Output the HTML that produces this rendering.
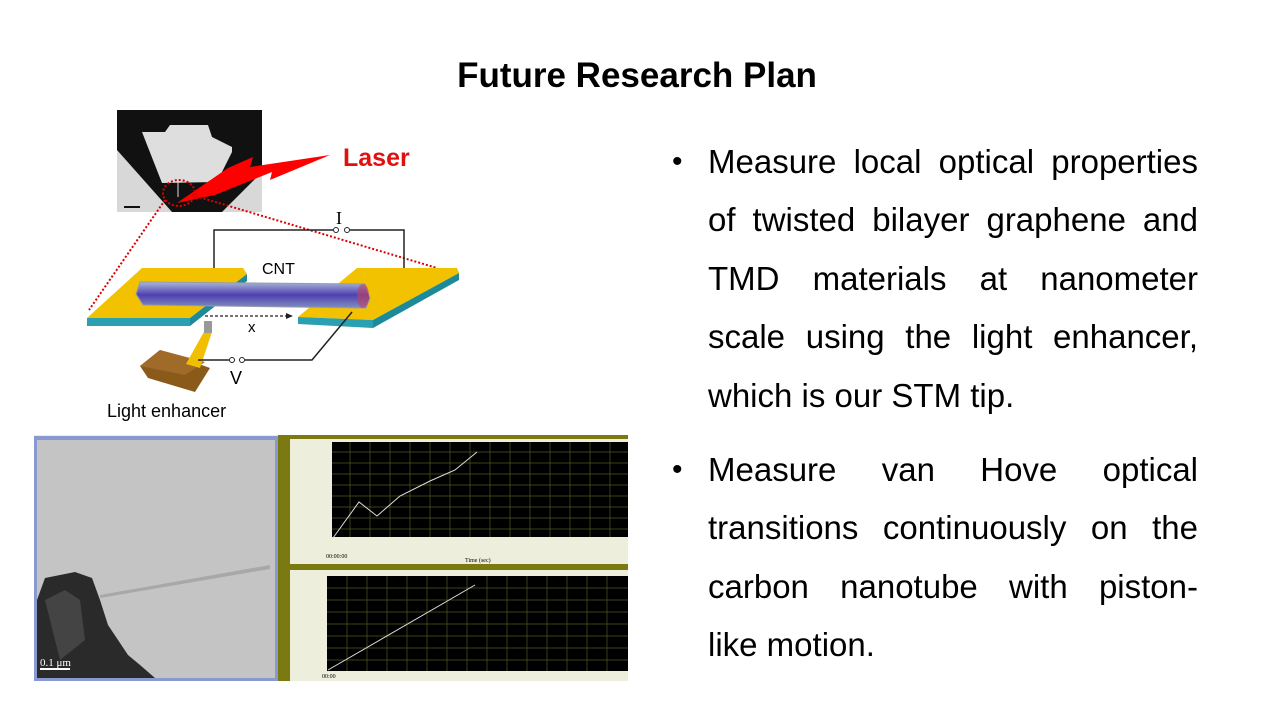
<!DOCTYPE html>
<html><head><meta charset="utf-8">
<style>
html,body{margin:0;padding:0;background:#fff;}
body{width:1280px;height:720px;position:relative;overflow:hidden;font-family:"Liberation Sans",sans-serif;}
.t{position:absolute;left:0;width:1274px;text-align:center;top:56px;font-size:35px;font-weight:bold;color:#000;}
.ln{position:absolute;left:708px;width:490px;font-size:33px;line-height:38px;color:#000;text-align:justify;text-align-last:justify;white-space:nowrap;}
.ln.l{text-align-last:left;}
.b{position:absolute;left:672px;font-size:30px;line-height:38px;}
</style></head><body>
<div class="t">Future Research Plan</div>

<div class="b" style="top:143px">•</div>
<div class="ln" style="top:143px">Measure local optical properties</div>
<div class="ln" style="top:201px">of twisted bilayer graphene and</div>
<div class="ln" style="top:260px">TMD materials at nanometer</div>
<div class="ln" style="top:318px">scale using the light enhancer,</div>
<div class="ln l" style="top:377px">which is our STM tip.</div>
<div class="b" style="top:451px">•</div>
<div class="ln" style="top:451px">Measure van Hove optical</div>
<div class="ln" style="top:509px">transitions continuously on the</div>
<div class="ln" style="top:568px">carbon nanotube with piston-</div>
<div class="ln l" style="top:626px">like motion.</div>

<svg width="1280" height="720" style="position:absolute;left:0;top:0" xmlns="http://www.w3.org/2000/svg">
<!-- SEM image -->
<rect x="117" y="110" width="145" height="102" fill="#d8d8d8"/>
<polygon points="117,110 262,110 262,172 222,212 172,212 117,150" fill="#111"/>
<polygon points="142,132 165,132 170,125 208,125 212,137 232,147 232,152 217,182 162,183" fill="#dedede"/>
<line x1="178" y1="182" x2="178" y2="197" stroke="#ddd" stroke-width="1"/>
<line x1="124" y1="207" x2="140" y2="207" stroke="#111" stroke-width="2"/>
<!-- laser bolt -->
<polygon points="177,203 228,168 253,157 250,167 330,155 270,180 272,172 215,195" fill="#f00"/>
<text x="343" y="166" font-size="25" font-weight="bold" fill="#e01010" font-family="Liberation Sans,sans-serif">Laser</text>
<!-- dotted circle & lines -->
<ellipse cx="179" cy="193" rx="16" ry="13" fill="none" stroke="#d00" stroke-width="2" stroke-dasharray="2,2"/>
<line x1="165" y1="200" x2="89" y2="310" stroke="#d00" stroke-width="2" stroke-dasharray="2,2"/>
<line x1="192" y1="195" x2="437" y2="268" stroke="#d00" stroke-width="2" stroke-dasharray="2,2"/>
<!-- circuit I -->
<polyline points="214,268 214,230 333,230" fill="none" stroke="#222" stroke-width="1.5"/>
<polyline points="350,230 404,230 404,270" fill="none" stroke="#222" stroke-width="1.5"/>
<circle cx="336" cy="230" r="2.5" fill="#fff" stroke="#222"/>
<circle cx="347" cy="230" r="2.5" fill="#fff" stroke="#222"/>
<text x="336" y="224" font-size="18" font-family="Liberation Serif,serif">I</text>
<!-- left pad -->
<polygon points="87,318 142,268 243,268 247,274 190,318" fill="#f2c200"/>
<polygon points="87,318 190,318 190,326 87,326" fill="#2aa0b0"/>
<polygon points="190,318 247,274 247,281 190,326" fill="#1d8a9a"/>
<!-- right pad -->
<polygon points="298,317 357,268 457,268 459,273 373,320" fill="#f2c200"/>
<polygon points="298,317 373,320 373,328 298,324" fill="#2aa0b0"/>
<polygon points="373,320 459,273 459,280 373,328" fill="#1d8a9a"/>
<!-- CNT -->
<defs><linearGradient id="g" x1="0" y1="0" x2="0" y2="1"><stop offset="0" stop-color="#a8b8d8"/><stop offset=".5" stop-color="#5040b0"/><stop offset="1" stop-color="#8090c0"/></linearGradient></defs>
<polygon points="140,282 365,284 370,298 366,308 143,305 136,294" fill="url(#g)" stroke="#99a" stroke-width="1"/>
<ellipse cx="363" cy="296" rx="6" ry="12" fill="#c04060" opacity=".6"/>
<text x="262" y="274" font-size="16" font-family="Liberation Sans,sans-serif">CNT</text>
<line x1="205" y1="316" x2="288" y2="316" stroke="#222" stroke-width="1.2" stroke-dasharray="3,2"/>
<polygon points="293,316 286,313 286,319" fill="#222"/>
<text x="248" y="332" font-size="15" font-family="Liberation Sans,sans-serif">x</text>
<!-- tip -->
<polygon points="140,366 160,350 210,368 195,392 148,378" fill="#8a5a1a"/>
<polygon points="140,366 160,350 205,362 185,375" fill="#a06a28"/>
<polygon points="205,330 212,332 200,368 186,364" fill="#f0c000"/>
<rect x="204" y="321" width="8" height="12" fill="#999"/>
<polyline points="198,360 229,360" fill="none" stroke="#222" stroke-width="1.5"/>
<polyline points="245,360 312,360 352,312" fill="none" stroke="#222" stroke-width="1.5"/>
<circle cx="232" cy="360" r="2.5" fill="#fff" stroke="#222"/>
<circle cx="242" cy="360" r="2.5" fill="#fff" stroke="#222"/>
<text x="230" y="384" font-size="18" font-family="Liberation Sans,sans-serif">V</text>
<text x="107" y="417" font-size="18" font-family="Liberation Sans,sans-serif">Light enhancer</text>

<!-- bottom composite -->
<rect x="34" y="435" width="594" height="246" fill="#eeeedd"/>
<rect x="34" y="436" width="244" height="245" fill="#8898d0"/>
<rect x="37" y="440" width="238" height="238" fill="#c4c4c4"/>
<path d="M100 595 L270 565 L270 569 L100 598Z" fill="#a8a8a8"/>
<path d="M37 600 L45 578 L75 572 L92 578 L100 600 L108 625 L118 640 L128 655 L140 665 L155 678 L37 678Z" fill="#2a2a2a"/>
<path d="M45 600 L65 590 L80 600 L85 640 L60 660Z" fill="#444"/>
<text x="40" y="666" font-size="11" fill="#fff" font-family="Liberation Serif,serif">0.1 μm</text>
<rect x="40" y="668" width="30" height="2" fill="#fff"/>
<rect x="278" y="435" width="12" height="246" fill="#7a7a10"/>
<rect x="290" y="435" width="338" height="4" fill="#7a7a10"/>
<rect x="290" y="564" width="338" height="6" fill="#7a7a10"/>
<!-- top plot -->
<rect x="332" y="442" width="296" height="95" fill="#000"/>
<g stroke="#4c5a20" stroke-width="0.7">
<line x1="332" y1="452" x2="628" y2="452"/><line x1="332" y1="463" x2="628" y2="463"/><line x1="332" y1="474" x2="628" y2="474"/><line x1="332" y1="485" x2="628" y2="485"/><line x1="332" y1="496" x2="628" y2="496"/><line x1="332" y1="507" x2="628" y2="507"/><line x1="332" y1="518" x2="628" y2="518"/><line x1="332" y1="529" x2="628" y2="529"/>
<line x1="350" y1="442" x2="350" y2="537"/><line x1="370" y1="442" x2="370" y2="537"/><line x1="390" y1="442" x2="390" y2="537"/><line x1="410" y1="442" x2="410" y2="537"/><line x1="430" y1="442" x2="430" y2="537"/><line x1="450" y1="442" x2="450" y2="537"/><line x1="470" y1="442" x2="470" y2="537"/><line x1="490" y1="442" x2="490" y2="537"/><line x1="510" y1="442" x2="510" y2="537"/><line x1="530" y1="442" x2="530" y2="537"/><line x1="550" y1="442" x2="550" y2="537"/><line x1="570" y1="442" x2="570" y2="537"/><line x1="590" y1="442" x2="590" y2="537"/><line x1="610" y1="442" x2="610" y2="537"/>
</g>
<polyline points="333,538 359,502 377,516 400,496 430,481 455,470 477,452" fill="none" stroke="#ddd" stroke-width="1"/>
<text x="326" y="558" font-size="6" font-family="Liberation Serif,serif">00:00:00</text>
<text x="465" y="562" font-size="6" font-family="Liberation Serif,serif">Time (sec)</text>
<!-- bottom plot -->
<rect x="327" y="576" width="301" height="95" fill="#000"/>
<g stroke="#4c5a20" stroke-width="0.7">
<line x1="327" y1="588" x2="628" y2="588"/><line x1="327" y1="600" x2="628" y2="600"/><line x1="327" y1="612" x2="628" y2="612"/><line x1="327" y1="624" x2="628" y2="624"/><line x1="327" y1="636" x2="628" y2="636"/><line x1="327" y1="648" x2="628" y2="648"/><line x1="327" y1="660" x2="628" y2="660"/>
<line x1="347" y1="576" x2="347" y2="671"/><line x1="367" y1="576" x2="367" y2="671"/><line x1="387" y1="576" x2="387" y2="671"/><line x1="407" y1="576" x2="407" y2="671"/><line x1="427" y1="576" x2="427" y2="671"/><line x1="447" y1="576" x2="447" y2="671"/><line x1="467" y1="576" x2="467" y2="671"/><line x1="487" y1="576" x2="487" y2="671"/><line x1="507" y1="576" x2="507" y2="671"/><line x1="527" y1="576" x2="527" y2="671"/><line x1="547" y1="576" x2="547" y2="671"/><line x1="567" y1="576" x2="567" y2="671"/><line x1="587" y1="576" x2="587" y2="671"/><line x1="607" y1="576" x2="607" y2="671"/>
</g>
<line x1="328" y1="670" x2="475" y2="585" stroke="#ddd" stroke-width="1"/>
<text x="322" y="678" font-size="6" font-family="Liberation Serif,serif">00:00</text>
</svg>
</body></html>
